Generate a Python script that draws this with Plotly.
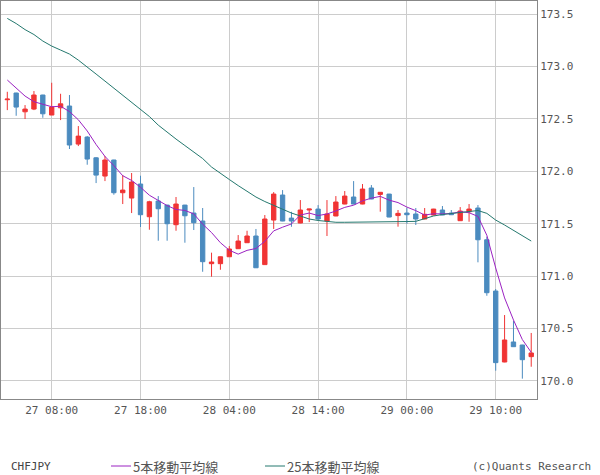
import plotly.graph_objects as go

# Hourly CHFJPY candles (index 0 = 27 03:00)
opens = [172.683, 172.747, 172.568, 172.594, 172.728, 172.537, 172.606, 172.623, 172.260, 172.327,
         172.129, 171.955, 172.108, 171.796, 171.745, 171.879, 171.567, 171.717, 171.678, 171.491,
         171.678, 171.602, 171.526, 171.119, 171.119, 171.185, 171.262, 171.319, 171.383, 171.110,
         171.535, 171.774, 171.554, 171.507, 171.631, 171.640, 171.526, 171.574, 171.688, 171.755,
         171.688, 171.841, 171.780, 171.783, 171.578, 171.602, 171.593, 171.545, 171.583, 171.631,
         171.602, 171.529, 171.614, 171.650, 171.347, 170.858, 170.181, 170.372, 170.343, 170.232]
highs = [172.759, 172.750, 172.632, 172.766, 172.730, 172.845, 172.740, 172.728, 172.432, 172.336,
         172.136, 172.146, 172.110, 171.964, 171.984, 171.958, 171.719, 171.764, 171.680, 171.755,
         171.680, 171.850, 171.650, 171.224, 171.187, 171.287, 171.392, 171.433, 171.450, 171.583,
         171.802, 171.821, 171.614, 171.726, 171.642, 171.678, 171.726, 171.764, 171.812, 171.907,
         171.879, 171.869, 171.802, 171.785, 171.631, 171.650, 171.650, 171.650, 171.642, 171.669,
         171.631, 171.659, 171.688, 171.678, 171.376, 170.877, 170.629, 170.572, 170.345, 170.458]
lows = [172.584, 172.530, 172.499, 172.584, 172.511, 172.537, 172.489, 172.213, 172.241, 172.063,
        171.888, 171.907, 171.777, 171.688, 171.602, 171.469, 171.443, 171.338, 171.338, 171.433,
        171.319, 171.440, 171.042, 170.995, 171.061, 171.183, 171.260, 171.317, 171.078, 171.108,
        171.450, 171.524, 171.471, 171.505, 171.516, 171.535, 171.383, 171.572, 171.686, 171.686,
        171.686, 171.734, 171.615, 171.562, 171.472, 171.500, 171.488, 171.543, 171.581, 171.581,
        171.583, 171.527, 171.519, 171.132, 170.813, 170.098, 170.179, 170.325, 170.022, 170.136]
closes = [172.689, 172.613, 172.594, 172.728, 172.549, 172.613, 172.644, 172.251, 172.336, 172.117,
          171.964, 172.108, 171.796, 171.821, 171.898, 171.586, 171.710, 171.643, 171.500, 171.688,
          171.576, 171.510, 171.138, 171.135, 171.185, 171.259, 171.335, 171.383, 171.080, 171.545,
          171.783, 171.526, 171.526, 171.631, 171.640, 171.545, 171.593, 171.707, 171.764, 171.688,
          171.831, 171.736, 171.800, 171.564, 171.599, 171.586, 171.545, 171.590, 171.640, 171.583,
          171.586, 171.621, 171.640, 171.347, 170.842, 170.175, 170.391, 170.327, 170.203, 170.267]

ma5 = [172.871, 172.791, 172.718, 172.664, 172.637, 172.616, 172.621, 172.570, 172.492, 172.385,
       172.256, 172.142, 172.054, 171.958, 171.913, 171.848, 171.772, 171.726, 171.673, 171.636,
       171.627, 171.594, 171.496, 171.416, 171.319, 171.247, 171.210, 171.246, 171.264, 171.332,
       171.432, 171.467, 171.498, 171.583, 171.602, 171.578, 171.593, 171.622, 171.656, 171.677,
       171.718, 171.744, 171.761, 171.725, 171.702, 171.659, 171.625, 171.583, 171.595, 171.594,
       171.597, 171.615, 171.605, 171.570, 171.390, 171.078, 170.792, 170.582, 170.395, 170.273]
ma25 = [173.459, 173.410, 173.352, 173.305, 173.243, 173.195, 173.157, 173.119, 173.061, 172.998,
        172.928, 172.861, 172.794, 172.728, 172.666, 172.599, 172.523, 172.441, 172.370, 172.308,
        172.246, 172.184, 172.122, 172.041, 171.979, 171.922, 171.864, 171.807, 171.755, 171.712,
        171.674, 171.636, 171.602, 171.574, 171.545, 171.531, 171.519, 171.514, 171.514, 171.514,
        171.516, 171.518, 171.519, 171.519, 171.519, 171.521, 171.523, 171.545, 171.574, 171.588,
        171.597, 171.612, 171.621, 171.626, 171.599, 171.535, 171.488, 171.435, 171.383, 171.335]

tick_index = [5, 15, 25, 35, 45, 55]
tick_labels = ["27 08:00", "27 18:00", "28 04:00", "28 14:00", "29 00:00", "29 10:00"]
y_ticks = [170.0, 170.5, 171.0, 171.5, 172.0, 172.5, 173.0, 173.5]

xs = list(range(len(closes)))

RED = "#f03434"
BLUE = "#4b8bbf"
PURPLE = "#9b22c2"
TEAL = "#24786e"
MONO = "DejaVu Sans Mono, Noto Sans CJK JP, monospace"
CJK = "Noto Sans CJK JP, sans-serif"

fig = go.Figure()
fig.add_trace(go.Candlestick(
    x=xs, open=opens, high=highs, low=lows, close=closes,
    increasing=dict(line=dict(color=RED, width=1), fillcolor=RED),
    decreasing=dict(line=dict(color=BLUE, width=1), fillcolor=BLUE),
    whiskerwidth=0, showlegend=False, name="CHFJPY"))
fig.add_trace(go.Scatter(x=xs, y=ma5, mode="lines", line=dict(color=PURPLE, width=1),
                         showlegend=False, name="5本移動平均線"))
fig.add_trace(go.Scatter(x=xs, y=ma25, mode="lines", line=dict(color=TEAL, width=1),
                         showlegend=False, name="25本移動平均線"))

fig.update_layout(
    width=600, height=475,
    margin=dict(l=1, r=63, t=1, b=76),
    paper_bgcolor="white", plot_bgcolor="white",
    showlegend=False,
    xaxis=dict(range=[-0.709, 59.65], tickmode="array", tickvals=tick_index, ticktext=tick_labels,
               showgrid=True, gridcolor="#cccccc", gridwidth=1, zeroline=False,
               showline=True, linecolor="#888888", linewidth=1, mirror=True,
               ticks="outside", ticklen=1, tickcolor="rgba(0,0,0,0)",
               tickfont=dict(family=MONO, size=11, color="#555555"),
               rangeslider=dict(visible=False), fixedrange=True),
    yaxis=dict(range=[169.828, 173.625], side="right", tickmode="array", tickvals=y_ticks,
               ticktext=[f"{v:.1f}" for v in y_ticks],
               showgrid=True, gridcolor="#cccccc", gridwidth=1, zeroline=False,
               showline=True, linecolor="#888888", linewidth=1, mirror=True,
               ticks="", ticklen=0,
               tickfont=dict(family=MONO, size=11, color="#555555"), fixedrange=True),
)

def px_x(p):
    return (p - 1) / 536.0

def px_y(p):
    return (399 - p) / 398.0

ly = px_y(466)
fig.add_annotation(x=px_x(9), y=ly, xref="paper", yref="paper", text="CHFJPY", showarrow=False,
                   xanchor="left", yanchor="middle", font=dict(family=MONO, size=11, color="#444444"))
fig.add_shape(type="line", xref="paper", yref="paper", x0=px_x(111), x1=px_x(131), y0=ly, y1=ly,
              line=dict(color=PURPLE, width=1))
fig.add_annotation(x=px_x(131), y=ly, xref="paper", yref="paper", text="5本移動平均線", showarrow=False,
                   xanchor="left", yanchor="middle", font=dict(family=CJK, size=13, color="#555555"))
fig.add_shape(type="line", xref="paper", yref="paper", x0=px_x(265), x1=px_x(285), y0=ly, y1=ly,
              line=dict(color=TEAL, width=1))
fig.add_annotation(x=px_x(285), y=ly, xref="paper", yref="paper", text="25本移動平均線", showarrow=False,
                   xanchor="left", yanchor="middle", font=dict(family=CJK, size=13, color="#555555"))
fig.add_annotation(x=px_x(593), y=ly, xref="paper", yref="paper", text="(c)Quants Research", showarrow=False,
                   xanchor="right", yanchor="middle", font=dict(family=MONO, size=11, color="#555555"))

fig.write_html("out.html")
